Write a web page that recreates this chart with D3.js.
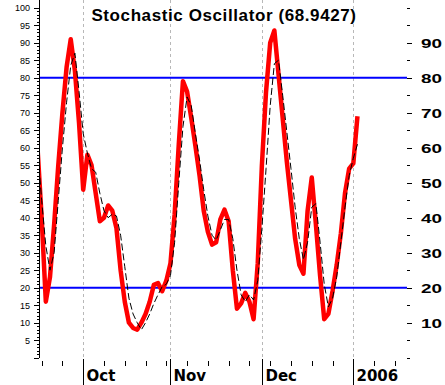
<!DOCTYPE html>
<html>
<head>
<meta charset="utf-8">
<script src="https://cdn.jsdelivr.net/npm/d3@7"></script>
<style>
  body { margin: 0; background: #fff; }
  svg { display: block; }
</style>
</head>
<body>
<div id="chart"></div>
<script>
// const
const width = 445
const height = 385
const plot = { left: 39, right: 407, top: 7.7, bottom: 357.7 }

// data: one value per weekday, starting Fri 16 Sep 2005
const startDate = new Date(2005, 8, 16)
const endAxisDate = new Date(2006, 0, 20)

// %K (red)
const kValues = [60, 40, 16, 23, 38, 55, 70, 83, 91, 82, 67, 48, 58, 55, 47, 39, 40, 43.5, 42, 37,
  25, 16, 10, 8.5, 8, 10, 12.5, 16, 20.8, 21.3, 19, 22, 27, 41, 61, 79, 76, 68.5, 60.5, 52,
  42, 36, 32.3, 33, 39.5, 42.3, 39, 25, 14, 15.5, 18.5, 16, 11, 27, 55, 76, 90, 93.5, 81, 68.5,
  56, 45, 34, 26.5, 24, 42, 51.5, 38, 23.5, 11, 12.5, 19, 26.5, 35.5, 47, 54, 55.5, 69]

// %D (black dashed)
const dValues = [60, 45, 32, 25, 30, 45, 60, 73, 83.5, 87, 76, 64, 58.5, 54, 53, 47, 42, 40, 41, 40.5,
  35, 26, 17, 12.5, 10, 8, 10, 12.5, 15.5, 18, 20.3, 21, 23.5, 33, 50, 66, 74.5, 72, 64, 56.5,
  48, 40.5, 35, 33.6, 36.5, 39.5, 39.5, 34, 25, 18, 16, 18, 16.5, 22, 37, 54, 72, 84, 85, 75,
  64.5, 54, 43, 34, 28, 33, 43, 44, 33, 21, 14.5, 17, 23, 33, 43, 52, 57, 61]

const levels = [20, 80]
const monthLabels = ["Oct", "Nov", "Dec", "2006"]
const title = "Stochastic Oscillator (68.9427)"

// weekdays on the x axis
const days = d3.timeDay.range(startDate, d3.timeDay.offset(endAxisDate, 1))
    .filter(d => d.getDay() !== 0 && d.getDay() !== 6)

const x = d3.scaleLinear()
    .domain([0.36, 88.92])
    .range([plot.left, plot.right])

const y = d3.scaleLinear()
    .domain([0, 100])
    .range([plot.bottom, plot.top])

// svg
const svg = d3.select("#chart")
    .append("svg")
    .attr("width", width)
    .attr("height", height)

svg.append("rect").attr("width", width).attr("height", height).attr("fill", "#fff")

// first weekday of each month -> month separators
const monthStarts = []
days.forEach((d, i) => {
    if (i > 0 && d.getMonth() !== days[i - 1].getMonth()) monthStarts.push(i)
})
const mondays = days.map((d, i) => i).filter(i => days[i].getDay() === 1 && !monthStarts.includes(i))

// gridlines
svg.append("g")
    .selectAll("line")
    .data(monthStarts)
    .join("line")
    .attr("x1", d => Math.round(x(d)) + 0.5).attr("x2", d => Math.round(x(d)) + 0.5)
    .attr("y1", 0).attr("y2", 358)
    .attr("stroke", "#b8b8b8")
    .attr("stroke-dasharray", "3,3")

// clip
svg.append("clipPath").attr("id", "clip")
    .append("rect")
    .attr("x", plot.left + 1).attr("y", 0)
    .attr("width", plot.right - plot.left).attr("height", 360)

// overbought / oversold
svg.append("g")
    .selectAll("line")
    .data(levels)
    .join("line")
    .attr("x1", plot.left).attr("x2", plot.right)
    .attr("y1", d => y(d)).attr("y2", d => y(d))
    .attr("stroke", "#0000ff")
    .attr("stroke-width", 2)

const line = d3.line()
    .x((d, i) => x(i))
    .y(d => y(d))

svg.append("path")
    .datum(kValues)
    .attr("clip-path", "url(#clip)")
    .attr("fill", "none")
    .attr("stroke", "#ff0000")
    .attr("stroke-width", 4.5)
    .attr("stroke-linejoin", "round")
    .attr("d", line)

svg.append("path")
    .datum(dValues)
    .attr("clip-path", "url(#clip)")
    .attr("fill", "none")
    .attr("stroke", "#000")
    .attr("stroke-width", 1)
    .attr("stroke-dasharray", "7,3")
    .attr("d", line)

// left axis: minor + major ticks
const leftMinor = d3.axisLeft(y).tickValues(d3.range(0, 101)).tickSize(2).tickFormat("")
const leftMajor = d3.axisLeft(y).tickValues(d3.range(0, 101, 5)).tickSize(5)
    .tickFormat(d => d === 0 ? "" : d)

const gl = svg.append("g").attr("transform", `translate(${plot.left},0)`)
gl.append("g").call(leftMinor)
gl.append("g").call(leftMajor)
gl.selectAll(".domain").remove()
gl.append("line").attr("x1", 0).attr("x2", 0).attr("y1", 0).attr("y2", 358)
    .attr("stroke", "#000")
gl.selectAll("text")
    .attr("font-family", "'Liberation Sans Narrow', 'Liberation Sans', Arial, sans-serif")
    .attr("font-size", 9)
    .attr("fill", "#000")
    .attr("x", -9)
gl.selectAll("line").attr("shape-rendering", "crispEdges")

// right axis
const rightMinor = d3.axisRight(y).tickValues(d3.range(0, 101, 5)).tickSize(3).tickFormat("")
const rightMajor = d3.axisRight(y).tickValues(d3.range(10, 100, 10)).tickSize(5).tickFormat("")
const gr = svg.append("g").attr("transform", `translate(${plot.right},0)`)
gr.append("g").call(rightMinor)
gr.append("g").call(rightMajor)
gr.selectAll(".domain").remove()
gr.selectAll("line").attr("shape-rendering", "crispEdges")
gr.append("g")
    .selectAll("text")
    .data(d3.range(10, 100, 10))
    .join("text")
    .attr("transform", d => `translate(35, ${y(d) + 5}) scale(1.4,1)`)
    .attr("text-anchor", "end")
    .attr("font-family", "'Liberation Sans', Arial, sans-serif")
    .attr("font-weight", "bold")
    .attr("font-size", 13.5)
    .text(d => d)

// bottom axis: weekly ticks
const bottom = d3.axisBottom(x).tickValues(mondays).tickSize(5).tickFormat("")
const gb = svg.append("g").attr("transform", "translate(0,361)")
gb.call(bottom)
gb.select(".domain").remove()
gb.selectAll("line").attr("shape-rendering", "crispEdges")

const gm = svg.append("g")
    .selectAll("g")
    .data(monthStarts)
    .join("g")
    .attr("transform", d => `translate(${Math.round(x(d)) + 0.5},0)`)
gm.append("line")
    .attr("y1", 359).attr("y2", 385)
    .attr("stroke", "#000")
gm.append("text")
    .attr("x", 3).attr("y", 381)
    .attr("font-family", "'DejaVu Sans', sans-serif")
    .attr("font-weight", "bold")
    .attr("font-size", 15)
    .text((d, i) => monthLabels[i])

// title
svg.append("text")
    .attr("x", 224).attr("y", 20.5)
    .attr("text-anchor", "middle")
    .attr("font-family", "'Liberation Sans', Arial, sans-serif")
    .attr("font-weight", "bold")
    .attr("font-size", 17)
    .attr("letter-spacing", 0.6)
    .text(title)
</script>
</body>
</html>
